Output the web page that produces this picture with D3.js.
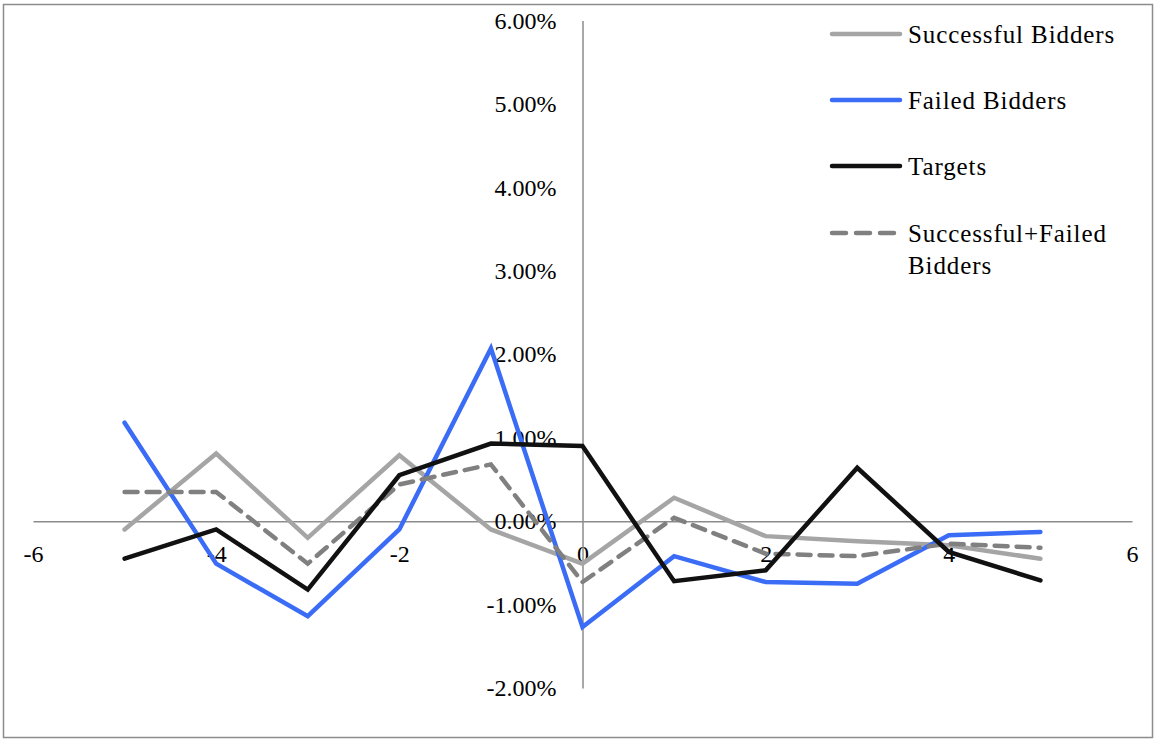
<!DOCTYPE html>
<html>
<head>
<meta charset="utf-8">
<script src="https://cdn.jsdelivr.net/npm/d3@7"></script>
<style>
html,body{margin:0;padding:0;background:#fff;}
svg{display:block;}
text{font-family:"Liberation Serif","Times New Roman",serif;}
</style>
</head>
<body>
<svg id="chart" width="1156" height="740"></svg>
<script>
const days = [-5,-4,-3,-2,-1,0,1,2,3,4,5];
const successful = [-0.10,0.81,-0.20,0.79,-0.10,-0.51,0.28,-0.18,-0.24,-0.29,-0.45];
const failed = [1.18,-0.51,-1.14,-0.10,2.07,-1.27,-0.42,-0.73,-0.75,-0.17,-0.13];
const targets = [-0.45,-0.10,-0.82,0.55,0.93,0.90,-0.72,-0.59,0.64,-0.37,-0.71];
const combined = [0.35,0.35,-0.51,0.44,0.68,-0.73,0.04,-0.39,-0.42,-0.27,-0.32];
const xTicks = [-6,-4,-2,0,2,4,6];
const yTicks = [-2,-1,0,1,2,3,4,5,6];
const seriesNames = ["Successful Bidders","Failed Bidders","Targets","Successful+Failed Bidders"];

const svg = d3.select("#chart");
svg.append("rect").attr("x",3.5).attr("y",4.5).attr("width",1149).attr("height",733)
  .attr("fill","#fff").attr("stroke","#8c8c8c").attr("stroke-width",1.5);

const x = d3.scaleLinear().domain([-6,6]).range([33,1132]);
const y = d3.scaleLinear().domain([-2,6]).range([688,20.5]);

// axes
const xAxis = d3.axisBottom(x).tickValues(xTicks).tickSize(0).tickPadding(0).tickFormat(d3.format("d"));
const gx = svg.append("g").attr("transform",`translate(0,${y(0)})`).call(xAxis);
gx.select(".domain").attr("stroke","#8c8c8c").attr("stroke-width",1.5);
gx.selectAll("text").attr("font-size",24).attr("fill","#000").attr("y",32).attr("dy","0.35em")
  .text(d => d < 0 ? "-" + Math.abs(d) : d);

const yAxis = d3.axisLeft(y).tickValues(yTicks).tickSize(0).tickPadding(26).tickFormat(d => d3.format(".2f")(d) + "%");
const gy = svg.append("g").attr("transform",`translate(${x(0)},0)`).call(yAxis);
gy.select(".domain").attr("stroke","#8c8c8c").attr("stroke-width",1.5);
gy.selectAll("text").attr("font-size",24).attr("fill","#000")
  .text(d => (d < 0 ? "-" : "") + d3.format(".2f")(Math.abs(d)) + "%");

const styles = [
  {data: successful, color:"#a5a5a5", dash:null},
  {data: failed, color:"#3a6cf6", dash:null},
  {data: targets, color:"#111111", dash:null},
  {data: combined, color:"#808080", dash:"13,9"}
];
const line = d3.line().x((d,i)=>x(days[i])).y(d=>y(d));
const order = [0,1,3,2];
order.forEach(k => {
  const s = styles[k];
  svg.append("path").datum(s.data).attr("d",line)
    .attr("fill","none").attr("stroke",s.color).attr("stroke-width",4.5)
    .attr("stroke-linejoin","miter").attr("stroke-linecap","round")
    .attr("stroke-dasharray",s.dash);
});

// legend
const legY = [34,100,166,233];
const leg = svg.append("g");
seriesNames.forEach((name,i) => {
  const s = styles[i];
  leg.append("line").attr("x1",832).attr("x2",900).attr("y1",legY[i]).attr("y2",legY[i])
    .attr("stroke",s.color).attr("stroke-width",4.5).attr("stroke-linecap","round")
    .attr("stroke-dasharray", s.dash ? "14,10" : null);
  const t = leg.append("text").attr("x",908).attr("y",legY[i]).attr("dy","0.35em")
    .attr("font-size",25).attr("letter-spacing","0.9px").attr("fill","#000");
  if (name === "Successful+Failed Bidders") {
    t.append("tspan").attr("x",908).text("Successful+Failed");
    t.append("tspan").attr("x",908).attr("dy","1.28em").text("Bidders");
  } else t.text(name);
});
</script>
</body>
</html>
